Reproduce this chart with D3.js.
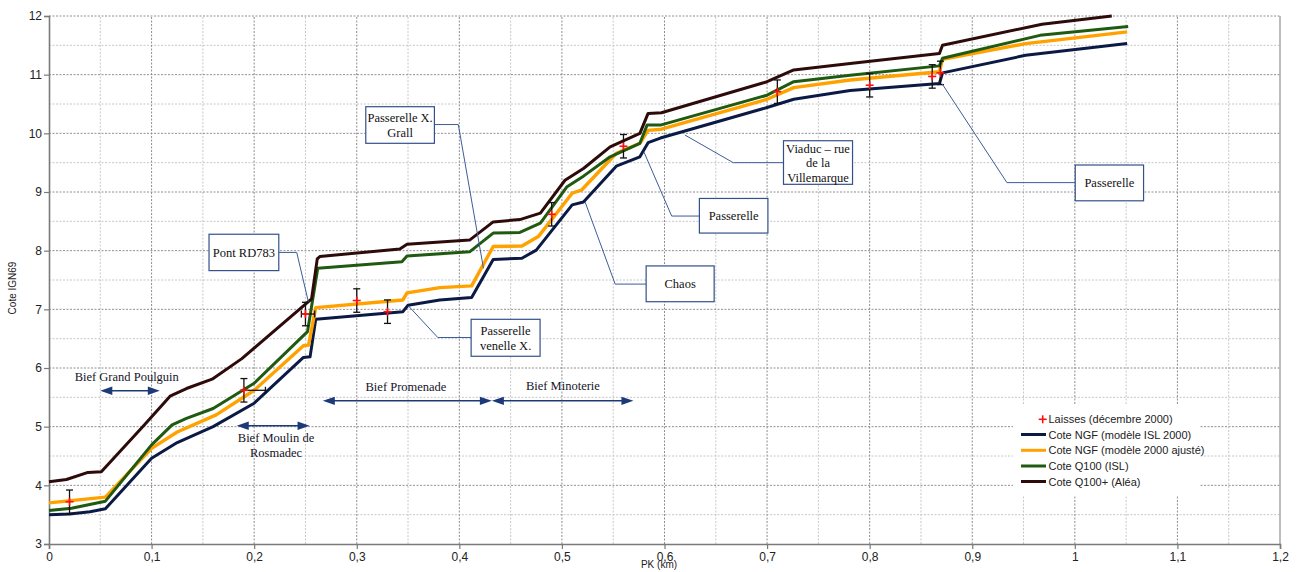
<!DOCTYPE html>
<html>
<head>
<meta charset="utf-8">
<script src="https://cdn.jsdelivr.net/npm/d3@7/dist/d3.min.js"></script>
<style>
body { margin: 0; background: #fff; }
</style>
</head>
<body>
<div id="chart"></div>
<script>
// Cote NGF (modèle ISL 2000)
const pkISL   = [0, 0.02, 0.04, 0.055, 0.1, 0.125, 0.16, 0.2, 0.248, 0.2545, 0.26, 0.345, 0.35, 0.381, 0.412, 0.433, 0.461, 0.475, 0.51, 0.521, 0.553, 0.576, 0.584, 0.596, 0.70, 0.726, 0.781, 0.868, 0.871, 0.952, 1.051];
const coteISL = [3.50, 3.51, 3.55, 3.60, 4.46, 4.73, 5.00, 5.40, 6.18, 6.19, 6.83, 6.96, 7.07, 7.16, 7.20, 7.85, 7.87, 8.01, 8.78, 8.83, 9.44, 9.60, 9.84, 9.92, 10.44, 10.58, 10.73, 10.85, 11.03, 11.33, 11.53];

// Cote NGF (modèle 2000 ajusté)
const pkAjuste   = [0, 0.055, 0.1, 0.125, 0.163, 0.2, 0.248, 0.253, 0.26, 0.345, 0.349, 0.381, 0.412, 0.433, 0.461, 0.477, 0.51, 0.519, 0.553, 0.576, 0.584, 0.597, 0.70, 0.726, 0.781, 0.868, 0.871, 0.952, 1.051];
const coteAjuste = [3.70, 3.80, 4.63, 4.91, 5.20, 5.62, 6.38, 6.39, 7.03, 7.16, 7.28, 7.37, 7.40, 8.07, 8.08, 8.24, 8.98, 9.03, 9.66, 9.83, 10.05, 10.07, 10.58, 10.78, 10.91, 11.05, 11.26, 11.53, 11.73];

// Cote Q100 (ISL)
const pkQ100   = [0, 0.022, 0.055, 0.1, 0.12, 0.134, 0.16, 0.2, 0.252, 0.262, 0.344, 0.349, 0.41, 0.433, 0.459, 0.479, 0.505, 0.521, 0.547, 0.576, 0.583, 0.596, 0.70, 0.726, 0.781, 0.868, 0.871, 0.966, 1.052];
const coteQ100 = [3.57, 3.61, 3.73, 4.69, 5.03, 5.14, 5.31, 5.74, 6.62, 7.70, 7.81, 7.91, 7.98, 8.30, 8.31, 8.47, 9.09, 9.27, 9.60, 9.83, 10.14, 10.14, 10.65, 10.88, 10.99, 11.15, 11.28, 11.67, 11.82];

// Cote Q100+ (Aléa)
const pkAlea   = [0, 0.017, 0.038, 0.051, 0.092, 0.118, 0.134, 0.159, 0.188, 0.256, 0.2615, 0.264, 0.342, 0.349, 0.41, 0.433, 0.459, 0.479, 0.503, 0.521, 0.547, 0.576, 0.584, 0.597, 0.70, 0.726, 0.781, 0.868, 0.871, 0.968, 1.036];
const coteAlea = [4.06, 4.10, 4.22, 4.23, 5.01, 5.52, 5.65, 5.81, 6.16, 7.18, 7.86, 7.90, 8.03, 8.11, 8.18, 8.49, 8.53, 8.64, 9.20, 9.40, 9.77, 10.00, 10.34, 10.35, 10.88, 11.08, 11.19, 11.36, 11.50, 11.86, 12.00];

// Laisses (décembre 2000)
const laissesPK    = [0.02, 0.19, 0.25, 0.30, 0.33, 0.49, 0.56, 0.71, 0.80, 0.861, 0.869];
const laissesCote  = [3.72, 5.62, 6.92, 7.15, 6.96, 8.62, 9.78, 10.71, 10.82, 10.97, 11.03];
const laissesErr   = [0.2, 0.2, 0.2, 0.2, 0.2, 0.2, 0.2, 0.2, 0.2, 0.2, 0.2];
const laissesXMoins = [0, 0, 0.004, 0, 0, 0, 0, 0, 0, 0, 0];
const laissesXPlus  = [0, 0.021, 0.009, 0, 0, 0, 0, 0, 0, 0, 0];

const xTicks = [0, 0.1, 0.2, 0.3, 0.4, 0.5, 0.6, 0.7, 0.8, 0.9, 1, 1.1, 1.2];
const yTicks = [3, 4, 5, 6, 7, 8, 9, 10, 11, 12];

const series = [
    {name: 'Cote NGF (modèle ISL 2000)', pk: pkISL, cote: coteISL, color: '#0b1a45', w: 3},
    {name: 'Cote NGF (modèle 2000 ajusté)', pk: pkAjuste, cote: coteAjuste, color: '#ffa200', w: 3.4},
    {name: 'Cote Q100 (ISL)', pk: pkQ100, cote: coteQ100, color: '#1f5a10', w: 3},
    {name: 'Cote Q100+ (Aléa)', pk: pkAlea, cote: coteAlea, color: '#2e0b0b', w: 3}
];

const width = 1297, height = 572;
const margin = {top: 16, right: 17, bottom: 28, left: 49};

const svg = d3.select('#chart')
                .append('svg')
                .attr('width', width)
                .attr('height', height)
                .style('font-family', '"Liberation Sans", Arial, sans-serif');

const x = d3.scaleLinear().domain([0, 1.2]).range([margin.left, width - margin.right]);
const y = d3.scaleLinear().domain([3, 12]).range([height - margin.bottom, margin.top]);

const fr = d3.formatLocale({decimal: ',', thousands: ' ', grouping: [3], currency: ['', ' €']});
const fmt = fr.format('.1~f');

// grid: minor first, then major
const grid = svg.append('g');
d3.range(0.05, 1.2, 0.1).forEach(v => {
    grid.append('line').attr('x1', x(v)).attr('x2', x(v)).attr('y1', y(3)).attr('y2', y(12))
        .style('stroke', '#c8c8c8').style('stroke-width', 1).style('stroke-dasharray', '2,1.5');
});
d3.range(3.5, 12, 1).forEach(v => {
    grid.append('line').attr('x1', x(0)).attr('x2', x(1.2)).attr('y1', y(v)).attr('y2', y(v))
        .style('stroke', '#c8c8c8').style('stroke-width', 1).style('stroke-dasharray', '2,1.5');
});
xTicks.slice(1, -1).forEach(v => {
    grid.append('line').attr('x1', x(v)).attr('x2', x(v)).attr('y1', y(3)).attr('y2', y(12))
        .style('stroke', '#8e8e8e').style('stroke-width', 1).style('stroke-dasharray', '2,1.5');
});
yTicks.slice(1).forEach(v => {
    grid.append('line').attr('x1', x(0)).attr('x2', x(1.2)).attr('y1', y(v)).attr('y2', y(v))
        .style('stroke', '#8e8e8e').style('stroke-width', 1).style('stroke-dasharray', '2,1.5');
});
// right frame
svg.append('line').attr('x1', x(1.2)).attr('x2', x(1.2)).attr('y1', y(3)).attr('y2', y(12))
    .style('stroke', '#9a9a9a').style('stroke-width', 1.3);

// axes
const xAxis = d3.axisBottom(x).tickValues(xTicks).tickFormat(fmt).tickSize(5).tickPadding(3);
const yAxis = d3.axisLeft(y).tickValues(yTicks).tickFormat(d => d).tickSize(5).tickPadding(2);

const xAxisGroup = svg.append('g')
                      .attr('class', 'x axis')
                      .attr('transform', 'translate(0,' + y(3) + ')')
                      .call(xAxis);
const yAxisGroup = svg.append('g')
                      .attr('class', 'y axis')
                      .attr('transform', 'translate(' + x(0) + ',0)')
                      .call(yAxis);
[xAxisGroup, yAxisGroup].forEach(g => {
    g.select('.domain').style('stroke', '#7a7a7a').style('stroke-width', 1.6);
    g.selectAll('.tick line').style('stroke', '#7a7a7a').style('stroke-width', 1.2);
    g.selectAll('.tick text').style('font-size', '12px').style('fill', '#222')
        .style('font-family', '"Liberation Sans", Arial, sans-serif');
});

svg.append('text')
    .attr('transform', 'translate(16,' + 288 + ') rotate(-90)')
    .style('text-anchor', 'middle')
    .style('font-size', '10px')
    .style('fill', '#222')
    .text('Cote IGN69');

svg.append('text')
    .attr('x', 659)
    .attr('y', 568)
    .style('text-anchor', 'middle')
    .style('font-size', '10px')
    .style('fill', '#222')
    .text('PK (km)');

// series lines
const line = d3.line()
                .x(d => x(d[0]))
                .y(d => y(d[1]));

series.forEach(s => {
    svg.append('path')
        .datum(d3.zip(s.pk, s.cote))
        .attr('d', line)
        .style('fill', 'none')
        .style('stroke', s.color)
        .style('stroke-width', s.w)
        .style('stroke-linejoin', 'round');
});

// laisses with error bars
const laisses = laissesPK.map((p, i) => ({pk: p, cote: laissesCote[i], err: laissesErr[i],
                                          xm: laissesXMoins[i], xp: laissesXPlus[i]}));
const eb = svg.append('g').style('stroke', '#111').style('stroke-width', 1.3);
laisses.forEach(d => {
    const cx = x(d.pk);
    eb.append('line').attr('x1', cx).attr('x2', cx).attr('y1', y(d.cote - d.err)).attr('y2', y(d.cote + d.err));
    eb.append('line').attr('x1', cx - 3.5).attr('x2', cx + 3.5).attr('y1', y(d.cote - d.err)).attr('y2', y(d.cote - d.err));
    eb.append('line').attr('x1', cx - 3.5).attr('x2', cx + 3.5).attr('y1', y(d.cote + d.err)).attr('y2', y(d.cote + d.err));
    if (d.xm > 0 || d.xp > 0) {
        const cy = y(d.cote);
        const xa = x(d.pk - d.xm), xb = x(d.pk + d.xp);
        eb.append('line').attr('x1', xa).attr('x2', xb).attr('y1', cy).attr('y2', cy);
        eb.append('line').attr('x1', xb).attr('x2', xb).attr('y1', cy - 3.5).attr('y2', cy + 3.5);
        if (d.xm > 0) eb.append('line').attr('x1', xa).attr('x2', xa).attr('y1', cy - 3.5).attr('y2', cy + 3.5);
    }
});
const plus = svg.append('g').style('stroke', '#ff1010').style('stroke-width', 1.6);
laisses.forEach(d => {
    const cx = x(d.pk), cy = y(d.cote);
    plus.append('line').attr('x1', cx - 4).attr('x2', cx + 4).attr('y1', cy).attr('y2', cy);
    plus.append('line').attr('x1', cx).attr('x2', cx).attr('y1', cy - 4).attr('y2', cy + 4);
});

// bief arrows
const biefs = [
    {lines: ['Bief Grand Poulguin'], x0: 0.05, x1: 0.108, y: 5.613, tx: 0.0758, ty: [5.78]},
    {lines: ['Bief Moulin de', 'Rosmadec'], x0: 0.183, x1: 0.254, y: 5.016, tx: 0.2213, ty: [4.74, 4.49]},
    {lines: ['Bief Promenade'], x0: 0.2669, x1: 0.4317, y: 5.44, tx: 0.348, ty: [5.61]},
    {lines: ['Bief Minoterie'], x0: 0.4317, x1: 0.5697, y: 5.44, tx: 0.501, ty: [5.62]}
];
const arrowCol = '#1d3a78';
biefs.forEach(b => {
    const xa = x(b.x0), xb = x(b.x1), yy = y(b.y);
    svg.append('line').attr('x1', xa + 8).attr('x2', xb - 8).attr('y1', yy).attr('y2', yy)
        .style('stroke', arrowCol).style('stroke-width', 1.5);
    svg.append('path').attr('d', `M${xa},${yy} L${xa + 12},${yy - 4.2} L${xa + 12},${yy + 4.2} Z`).style('fill', arrowCol);
    svg.append('path').attr('d', `M${xb},${yy} L${xb - 12},${yy - 4.2} L${xb - 12},${yy + 4.2} Z`).style('fill', arrowCol);
    b.lines.forEach((t, i) => {
        svg.append('text').attr('x', x(b.tx)).attr('y', y(b.ty[i]))
            .style('text-anchor', 'middle')
            .style('font-family', '"Liberation Serif", "Times New Roman", serif')
            .style('font-size', '12.5px')
            .style('fill', '#141428')
            .text(t);
    });
});

// callouts
const callouts = [
    {lines: ['Pont RD783'], box: [0.156, 0.224, 8.28, 7.66], side: 'right', yc: 7.97, elbow: 0.2415, target: [0.2528, 7.13]},
    {lines: ['Passerelle X.', 'Grall'], box: [0.3088, 0.3757, 10.454, 9.83], side: 'right', yc: 10.15, elbow: 0.399, target: [0.4235, 7.70]},
    {lines: ['Passerelle', 'venelle X.'], box: [0.4115, 0.4787, 6.83, 6.20], side: 'left', yc: 6.52, elbow: 0.379, target: [0.3503, 7.06]},
    {lines: ['Chaos'], box: [0.5821, 0.6484, 7.74, 7.13], side: 'left', yc: 7.43, elbow: 0.5519, target: [0.5226, 8.83]},
    {lines: ['Passerelle'], box: [0.634, 0.7008, 8.89, 8.30], side: 'left', yc: 8.59, elbow: 0.607, target: [0.580, 9.68]},
    {lines: ['Viaduc – rue', 'de la', 'Villemarque'], box: [0.716, 0.7833, 9.874, 9.131], side: 'left', yc: 9.50, elbow: 0.667, target: [0.620, 9.97]},
    {lines: ['Passerelle'], box: [1.0004, 1.067, 9.46, 8.85], side: 'left', yc: 9.16, elbow: 0.9338, target: [0.8704, 10.85]}
];
const boxCol = '#34508c';
callouts.forEach(c => {
    const bx0 = x(c.box[0]), bx1 = x(c.box[1]), by0 = y(c.box[2]), by1 = y(c.box[3]);
    const sx = c.side === 'right' ? bx1 : bx0;
    svg.append('path')
        .attr('d', `M${sx},${y(c.yc)} L${x(c.elbow)},${y(c.yc)} L${x(c.target[0])},${y(c.target[1])}`)
        .style('fill', 'none').style('stroke', '#3d5c98').style('stroke-width', 1);
    svg.append('rect').attr('x', bx0).attr('y', by0).attr('width', bx1 - bx0).attr('height', by1 - by0)
        .style('fill', '#fff').style('stroke', boxCol).style('stroke-width', 1.2);
    const cxm = (bx0 + bx1) / 2, cym = (by0 + by1) / 2, lh = 14.5;
    c.lines.forEach((t, i) => {
        svg.append('text')
            .attr('x', cxm)
            .attr('y', cym + (i - (c.lines.length - 1) / 2) * lh + 4.5)
            .style('text-anchor', 'middle')
            .style('font-family', '"Liberation Serif", "Times New Roman", serif')
            .style('font-size', '12.5px')
            .style('fill', '#111')
            .text(t);
    });
});

// legend
const legend = svg.append('g').attr('transform', 'translate(1013,405)');
legend.append('rect').attr('width', 186).attr('height', 91).style('fill', '#fff');
const legRows = [14.3, 29.5, 45.3, 61, 76.5];
legend.append('line').attr('x1', 29.7 - 4).attr('x2', 29.7 + 4).attr('y1', legRows[0]).attr('y2', legRows[0])
    .style('stroke', '#ff1010').style('stroke-width', 1.6);
legend.append('line').attr('x1', 29.7).attr('x2', 29.7).attr('y1', legRows[0] - 4).attr('y2', legRows[0] + 4)
    .style('stroke', '#ff1010').style('stroke-width', 1.6);
legend.append('text').attr('x', 35.5).attr('y', legRows[0] + 4).style('font-size', '11px').style('fill', '#222')
    .text('Laisses (décembre 2000)');
series.forEach((s, i) => {
    const ry = legRows[i + 1];
    legend.append('line').attr('x1', 8).attr('x2', 33).attr('y1', ry).attr('y2', ry)
        .style('stroke', s.color).style('stroke-width', 3);
    legend.append('text').attr('x', 35.5).attr('y', ry + 4).style('font-size', '11px').style('fill', '#222')
        .text(s.name);
});
</script>
</body>
</html>
